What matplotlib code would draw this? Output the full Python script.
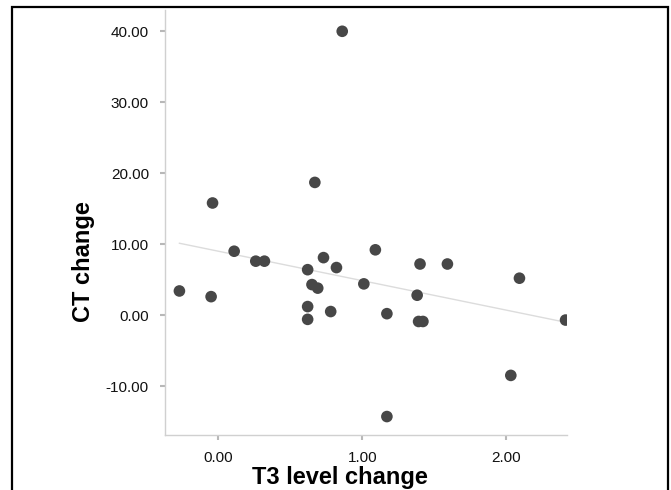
import numpy as np
import matplotlib
matplotlib.use("Agg")
import matplotlib.pyplot as plt
from matplotlib.patches import Rectangle

plt.rcParams['font.family'] = ['Liberation Sans', 'DejaVu Sans']

t3_change = [-0.27, -0.05, -0.04, 0.11, 0.26, 0.32, 0.62, 0.67, 0.65, 0.69,
             0.62, 0.62, 0.73, 0.82, 0.78, 1.01, 1.09, 1.17, 1.17, 1.40,
             1.38, 1.39, 1.42, 1.59, 2.09, 2.03, 2.41, 0.86]
ct_change = [3.4, 2.6, 15.8, 9.0, 7.6, 7.6, 6.4, 18.7, 4.3, 3.8,
             1.2, -0.6, 8.1, 6.7, 0.5, 4.4, 9.2, 0.2, -14.3, 7.2,
             2.8, -0.9, -0.9, 7.2, 5.2, -8.5, -0.7, 40.0]
y_ticks = [-10, 0, 10, 20, 30, 40]
x_ticks = [0, 1, 2]

fig = plt.figure(figsize=(6.71, 4.90), dpi=100)
W, H = 671, 490
L, R, T, B = 165, 567, 10, 435
ax = fig.add_axes([L / W, 1 - B / H, (R - L) / W, (B - T) / H])

x = np.array(t3_change)
y = np.array(ct_change)
slope, intercept = np.polyfit(x, y, 1)
xs = np.array([x.min(), x.max()])
ax.plot(xs, intercept + slope * xs, color='#dcdcdc', lw=1.0, zorder=1)

ax.scatter(x, y, s=70, color='#474747', edgecolors='none', zorder=3)

ax.set_xlim(-0.37, 2.42)
ax.set_ylim(-16.9, 43.0)
ax.set_xticks(x_ticks)
ax.set_yticks(y_ticks)
ax.set_xticklabels([f"{v:.2f}" for v in x_ticks])
ax.set_yticklabels([f"{v:.2f}" for v in y_ticks])

for s in ['top', 'right']:
    ax.spines[s].set_visible(False)
for s in ['left', 'bottom']:
    ax.spines[s].set_color('#d0d0d0')
    ax.spines[s].set_linewidth(1.0)
ax.tick_params(axis='both', length=3.6, width=1.5, color='#b8b8b8',
               labelsize=11, labelcolor='#111111', pad=8)

ax.set_xlabel('T3 level change', fontsize=17, fontweight='bold')
ax.xaxis.label.set_va('center')
ax.xaxis.set_label_coords(0.435, -0.101)
ax.set_ylabel('CT change', fontsize=17, fontweight='bold')
ax.yaxis.label.set_va('center')
ax.yaxis.set_label_coords(-0.2015, 0.407)

frame = Rectangle((12 / W, -0.02), (668 - 12) / W, (H - 7) / H + 0.02,
                  transform=fig.transFigure, fill=False, edgecolor='black',
                  lw=1.6, clip_on=False)
fig.patches.append(frame)

fig.savefig('out.png', dpi=100)
